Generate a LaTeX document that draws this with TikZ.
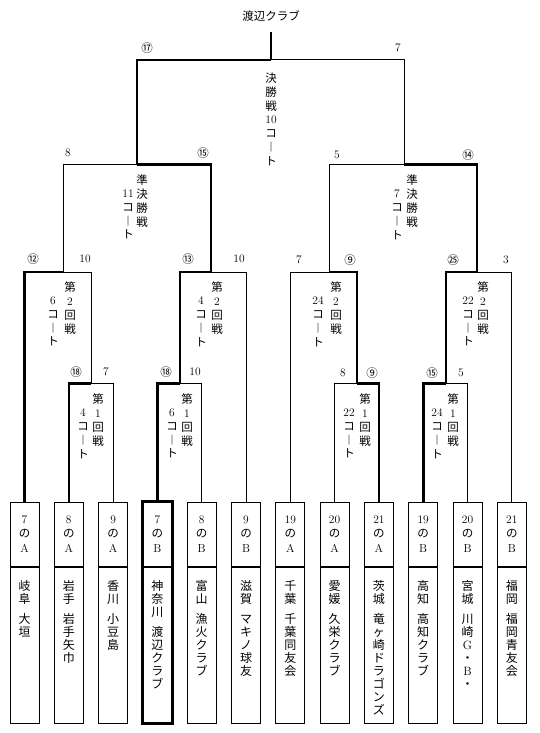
\documentclass[tikz,border=0pt]{standalone}
\usepackage{fontspec}
\newfontfamily\jp{Noto Sans CJK JP}
\usetikzlibrary{positioning}

\begin{document}
\begin{tikzpicture}[x=1pt, y=-1pt,
    win/.style={line width=2.6pt},
    lose/.style={line width=1pt},
    score/.style={inner sep=0pt, font=\jp\fontsize{11.5}{12}\selectfont},
    court/.style={anchor=north, align=center, inner sep=0pt, font=\jp\fontsize{11.5}{13.7}\selectfont},
    hdbox/.style={draw, line width=1pt, minimum width=29pt, minimum height=64pt, inner sep=0pt, align=center, font=\jp\fontsize{11.5}{14.5}\selectfont},
    teambox/.style={draw, line width=1pt, minimum width=29pt, minimum height=156pt, inner sep=0pt},
    teamname/.style={anchor=north, align=center, inner sep=0pt, font=\jp\fontsize{12}{13}\selectfont}]

    \useasboundingbox (0,0) rectangle (540,733);

    \def\pitch{44.3} % distance between the team boxes

    % team boxes
    \foreach \i/\hd/\nm in {
      1/{\textrm{7}\\の\\\textrm{A}}/{岐\\阜\\[7pt]大\\垣},
      2/{\textrm{8}\\の\\\textrm{A}}/{岩\\手\\[7pt]岩\\手\\矢\\巾},
      3/{\textrm{9}\\の\\\textrm{A}}/{香\\川\\[7pt]小\\豆\\島},
      4/{\textrm{7}\\の\\\textrm{B}}/{神\\奈\\川\\[7pt]渡\\辺\\ク\\ラ\\ブ},
      5/{\textrm{8}\\の\\\textrm{B}}/{富\\山\\[7pt]漁\\火\\ク\\ラ\\ブ},
      6/{\textrm{9}\\の\\\textrm{B}}/{滋\\賀\\[7pt]マ\\キ\\ノ\\球\\友},
      7/{\textrm{19}\\の\\\textrm{A}}/{千\\葉\\[7pt]千\\葉\\同\\友\\会},
      8/{\textrm{20}\\の\\\textrm{A}}/{愛\\媛\\[7pt]久\\栄\\ク\\ラ\\ブ},
      9/{\textrm{21}\\の\\\textrm{A}}/{茨\\城\\[7pt]竜\\ヶ\\崎\\ド\\ラ\\ゴ\\ン\\ズ},
      10/{\textrm{19}\\の\\\textrm{B}}/{高\\知\\[7pt]高\\知\\ク\\ラ\\ブ},
      11/{\textrm{20}\\の\\\textrm{B}}/{宮\\城\\[7pt]川\\崎\\\textrm{G}\\・\\\textrm{B}\\・},
      12/{\textrm{21}\\の\\\textrm{B}}/{福\\岡\\[7pt]福\\岡\\青\\友\\会}} {
      \node[hdbox] (h\i) at ({24.5+\pitch*(\i-1)},534) {\hd};
      \node[teambox, below=0pt of h\i] (n\i) {};
      \node[teamname] (t\i) at ([yshift=-14pt]n\i.north) {\nm};
    }
    \draw[win] (h4.north west) rectangle (n4.south east);

    % junctions
    \node[inner sep=0pt, font=\jp\fontsize{11.5}{12}\selectfont] (title) at (271,16) {渡辺クラブ};
    \coordinate (stub) at (271,32);
    \coordinate (fin) at (271,60);
    \coordinate (sf1) at (137,164.5);
    \coordinate (sf2) at (404,164.5);
    \coordinate (q1) at (63,272);
    \coordinate (q2) at (211,272);
    \coordinate (q3) at (329,272);
    \coordinate (q4) at (477,272);
    \coordinate (p1) at (91,383.5);
    \coordinate (p2) at (180,383.5);
    \coordinate (p3) at (357,383.5);
    \coordinate (p4) at (446,383.5);

    \draw[win] (stub) -- (fin);
    \draw[win] (fin) -| (sf1);
    \draw[lose] (fin) -| (sf2);

    \draw[lose] (sf1) -| (q1);
    \draw[win] (sf1) -| (q2);
    \draw[lose] (sf2) -| (q3);
    \draw[win] (sf2) -| (q4);

    \draw[win] (q1) -| (h1);
    \draw[lose] (q1) -| (p1);
    \draw[win] (q2) -| (p2);
    \draw[lose] (q2) -| (h6);
    \draw[lose] (q3) -| (h7);
    \draw[win] (q3) -| (p3);
    \draw[win] (q4) -| (p4);
    \draw[lose] (q4) -| (h12);

    \draw[win] (p1) -| (h2);
    \draw[lose] (p1) -| (h3);
    \draw[win] (p2) -| (h4);
    \draw[lose] (p2) -| (h5);
    \draw[lose] (p3) -| (h8);
    \draw[win] (p3) -| (h9);
    \draw[win] (p4) -| (h10);
    \draw[lose] (p4) -| (h11);

    % scores
    \node[score] (s1) at (147,48) {⑰};
    \node[score] (s2) at (398,48) {\textrm{7}};
    \node[score] (s3) at (68,153) {\textrm{8}};
    \node[score] (s4) at (203,153) {⑮};
    \node[score] (s5) at (337,155) {\textrm{5}};
    \node[score] (s6) at (468,155) {⑭};
    \node[score] (s7) at (33,259) {⑫};
    \node[score] (s8) at (85,259) {\textrm{10}};
    \node[score] (s9) at (188,259) {⑬};
    \node[score] (s10) at (239,259) {\textrm{10}};
    \node[score] (s11) at (299,260) {\textrm{7}};
    \node[score] (s12) at (350,260) {⑨};
    \node[score] (s13) at (453,260) {㉕};
    \node[score] (s14) at (506,260) {\textrm{3}};
    \node[score] (s15) at (76,372) {⑱};
    \node[score] (s16) at (106,372) {\textrm{7}};
    \node[score] (s17) at (166,372) {⑱};
    \node[score] (s18) at (195,372) {\textrm{10}};
    \node[score] (s19) at (343,373) {\textrm{8}};
    \node[score] (s20) at (372,373) {⑨};
    \node[score] (s21) at (432,373) {⑮};
    \node[score] (s22) at (461,373) {\textrm{5}};

    % courts
    \node[court] (c0) at (271,73) {決\\勝\\戦\\\textrm{10}\\コ\\︱\\ト};
    \node[court] (c1) at (142,175) {準\\決\\勝\\戦};
    \node[court] (c1b) at (128,190) {\textrm{11}\\コ\\︱\\ト};
    \node[court] (c2) at (412,175) {準\\決\\勝\\戦};
    \node[court] (c2b) at (397,190) {\textrm{7}\\コ\\︱\\ト};

    \node[court] (c3) at (70,282) {第\\\textrm{2}\\回\\戦};
    \node[court] (c3b) at (53,297) {\textrm{6}\\コ\\︱\\ト};
    \node[court] (c4) at (217,282) {第\\\textrm{2}\\回\\戦};
    \node[court] (c4b) at (201,297) {\textrm{4}\\コ\\︱\\ト};
    \node[court] (c5) at (336,282) {第\\\textrm{2}\\回\\戦};
    \node[court] (c5b) at (318,297) {\textrm{24}\\コ\\︱\\ト};
    \node[court] (c6) at (483,282) {第\\\textrm{2}\\回\\戦};
    \node[court] (c6b) at (468,297) {\textrm{22}\\コ\\︱\\ト};

    \node[court] (c7) at (98,394) {第\\\textrm{1}\\回\\戦};
    \node[court] (c7b) at (83,409) {\textrm{4}\\コ\\︱\\ト};
    \node[court] (c8) at (187,394) {第\\\textrm{1}\\回\\戦};
    \node[court] (c8b) at (172,409) {\textrm{6}\\コ\\︱\\ト};
    \node[court] (c9) at (365,394) {第\\\textrm{1}\\回\\戦};
    \node[court] (c9b) at (349,409) {\textrm{22}\\コ\\︱\\ト};
    \node[court] (c10) at (453,394) {第\\\textrm{1}\\回\\戦};
    \node[court] (c10b) at (437,409) {\textrm{24}\\コ\\︱\\ト};

\end{tikzpicture}
\end{document}
